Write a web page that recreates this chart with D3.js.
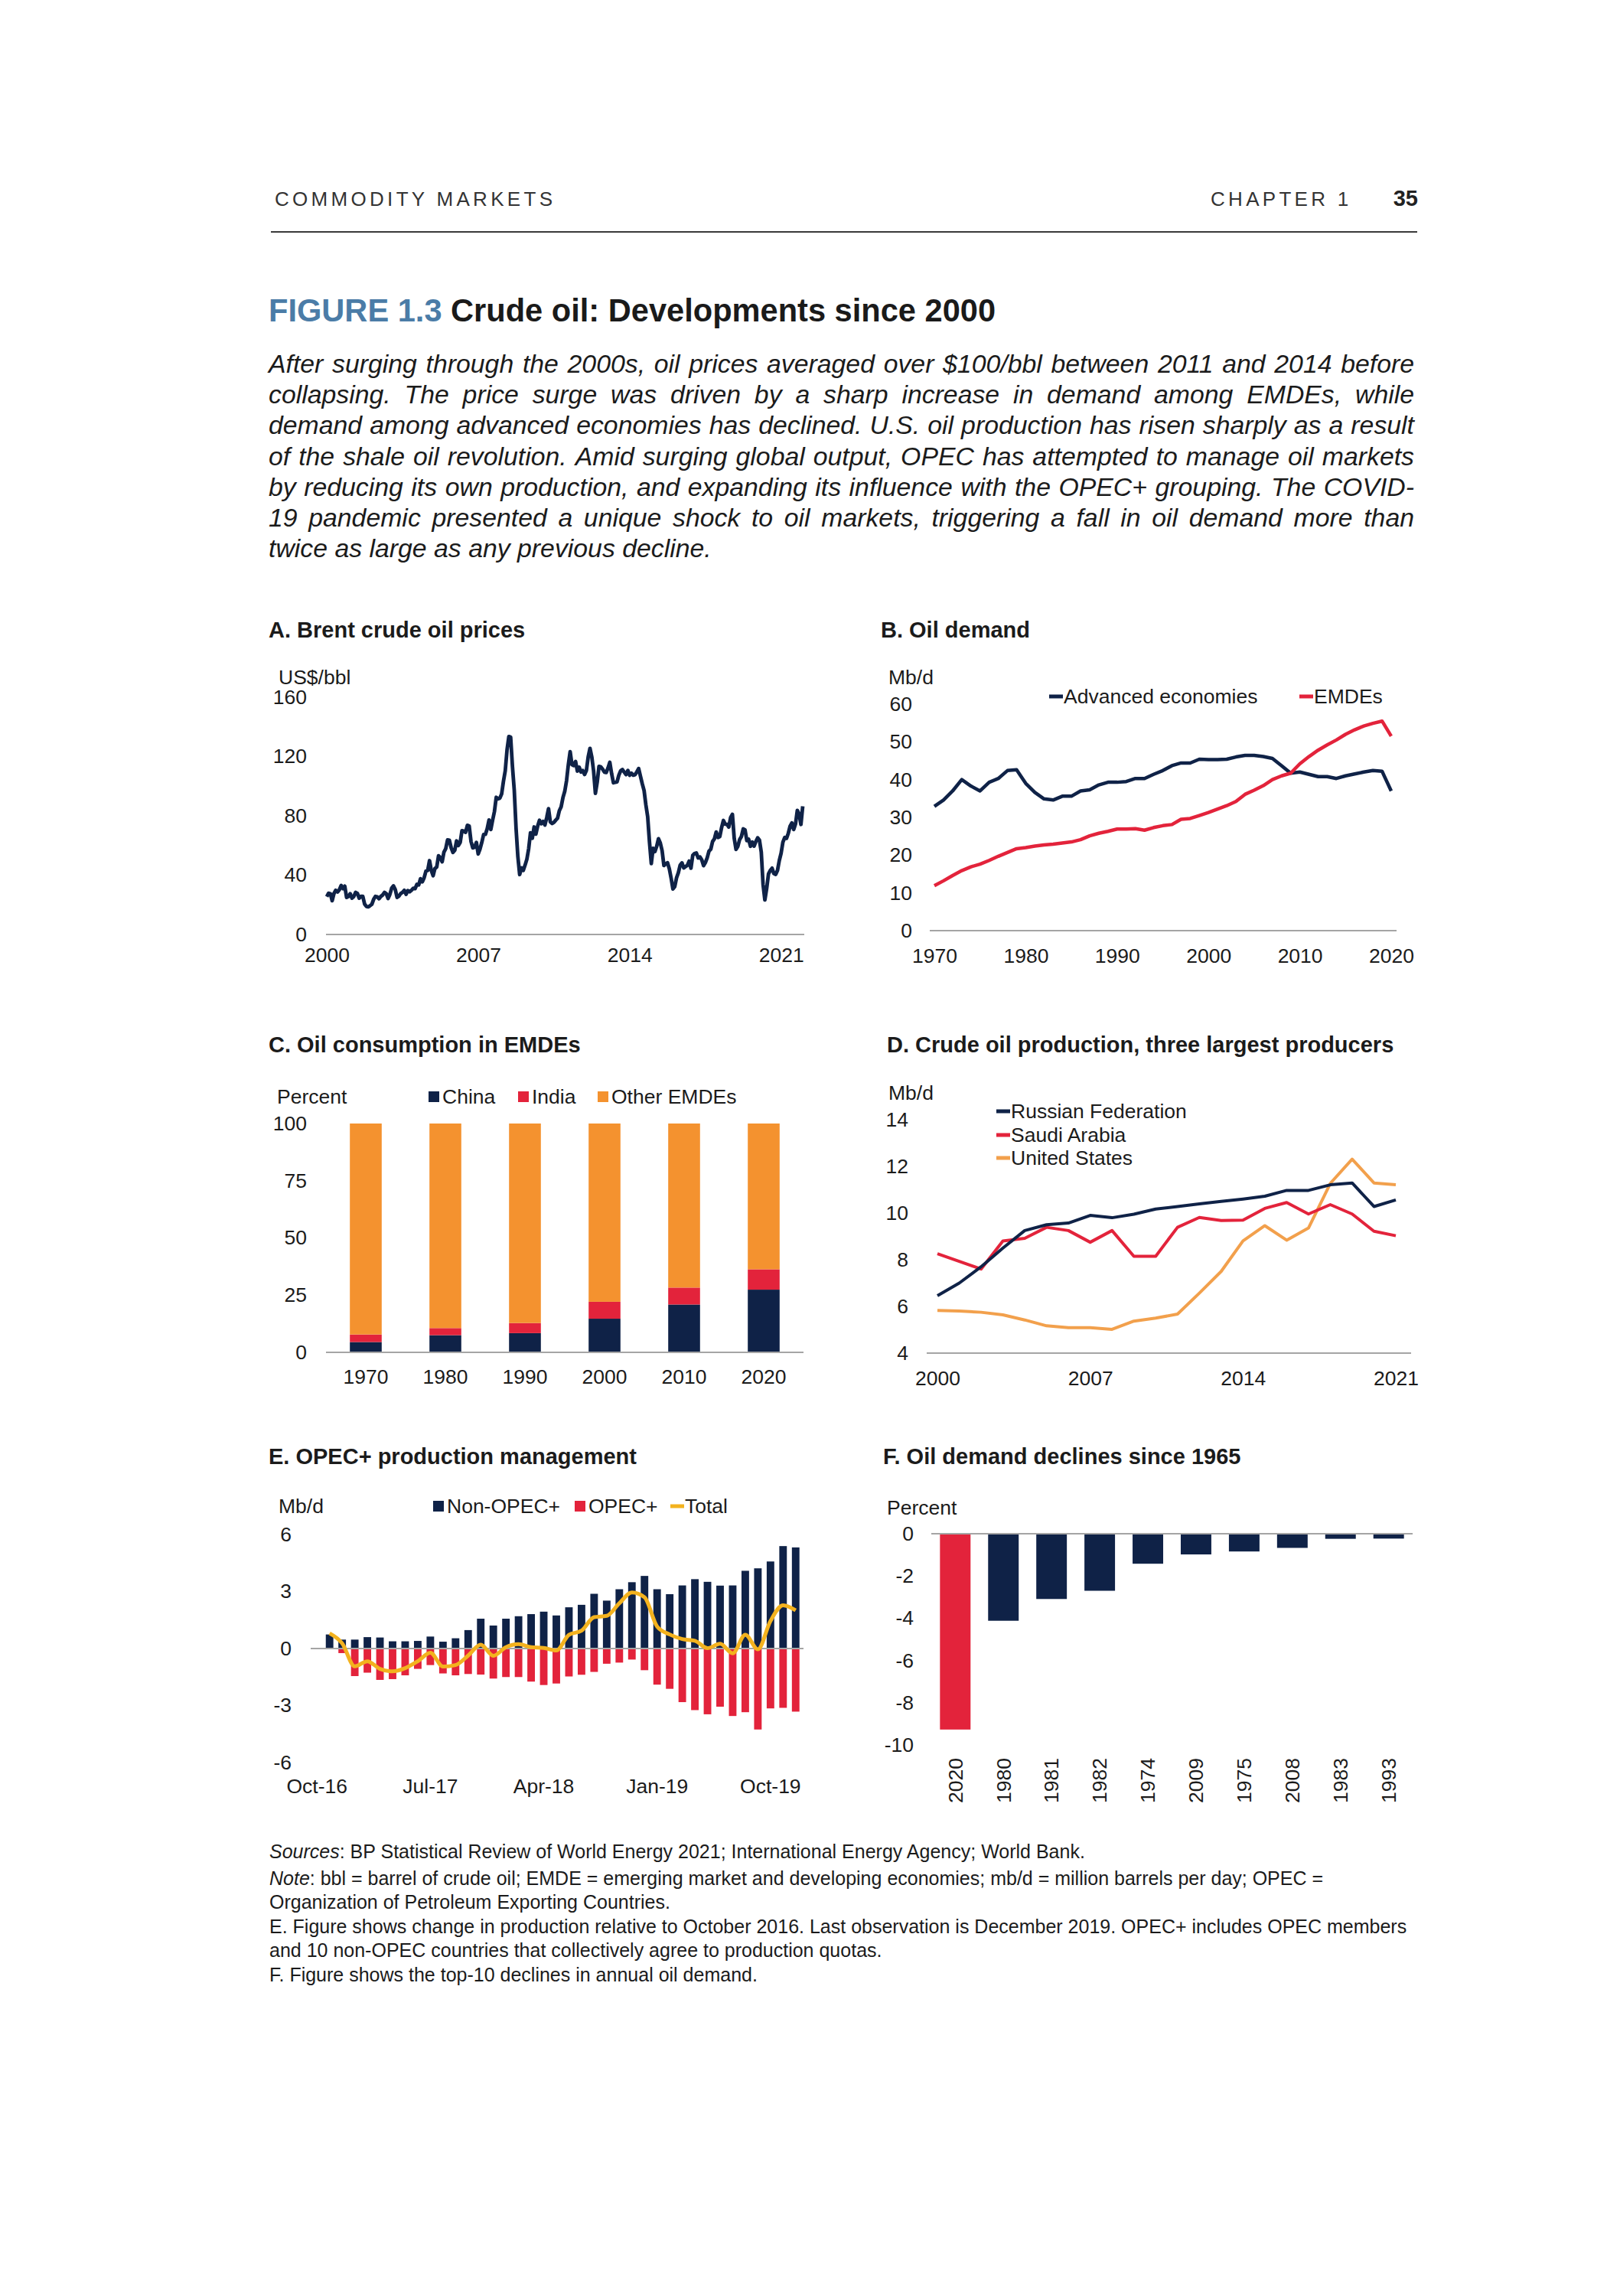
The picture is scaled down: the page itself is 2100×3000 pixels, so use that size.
<!DOCTYPE html>
<meta charset="utf-8">
<script src="https://d3js.org/d3.v7.min.js"></script>
<style>
  body { margin: 0; background: #fff; }
</style>
<div id="page"></div>
<script>

// ---------- data ----------

// A. Brent, US$/bbl, monthly Jan-2000 .. Jan-2022
const brentMonthly = [
  25.5, 27.8, 27.5, 22.8, 27.6, 29.8, 28.7, 30.2, 33.1, 30.9, 32.6, 25.0, // 2000
  25.6, 27.5, 24.5, 25.6, 28.4, 27.7, 24.5, 25.7, 25.7, 20.5, 18.9, 18.6, // 2001
  19.4, 20.3, 23.7, 25.7, 25.4, 24.1, 25.7, 26.6, 28.4, 27.5, 24.3, 27.0, // 2002
  31.2, 32.8, 30.3, 25.0, 25.8, 27.6, 28.4, 29.8, 27.1, 29.6, 28.8, 29.8, // 2003
  31.2, 30.9, 33.8, 33.4, 37.6, 35.5, 38.2, 42.7, 43.2, 49.8, 43.1, 39.6, // 2004
  44.5, 45.5, 53.1, 51.9, 49.0, 55.6, 57.9, 63.8, 63.6, 58.5, 55.3, 56.8, // 2005
  63.1, 60.0, 62.0, 70.0, 69.8, 68.9, 73.6, 73.2, 62.8, 58.4, 58.8, 62.1, // 2006
  54.3, 57.6, 62.1, 67.4, 67.5, 71.3, 77.2, 70.8, 77.1, 82.9, 92.5, 91.5, // 2007
  91.9, 94.8, 103.3, 110.4, 124.6, 133.5, 133.0, 113.2, 97.2, 71.6, 52.5, 40.4, // 2008
  44.9, 43.2, 46.8, 50.8, 57.9, 68.6, 64.9, 72.5, 67.7, 73.2, 77.0, 74.7, // 2009
  76.2, 73.8, 78.8, 84.8, 75.9, 74.8, 75.6, 77.1, 78.4, 83.5, 86.1, 92.3, // 2010
  96.5, 103.7, 114.6, 123.3, 114.5, 113.9, 116.7, 110.2, 112.8, 109.6, 110.5, 107.9, // 2011
  110.6, 119.7, 125.5, 119.8, 110.3, 95.2, 102.6, 113.4, 113.0, 111.5, 109.5, 109.2, // 2012
  112.3, 116.1, 108.5, 102.3, 102.6, 102.9, 107.4, 110.3, 111.2, 109.5, 107.8, 110.6, // 2013
  107.4, 108.8, 107.4, 107.8, 109.7, 111.9, 106.7, 101.6, 97.1, 87.4, 79.4, 62.3, // 2014
  47.8, 58.1, 55.9, 59.5, 64.6, 61.7, 56.5, 46.5, 47.6, 48.4, 44.3, 38.0, // 2015
  30.7, 32.2, 38.2, 41.6, 46.7, 48.3, 44.9, 45.8, 46.6, 49.5, 44.7, 53.3, // 2016
  54.6, 55.0, 51.6, 52.3, 50.3, 46.4, 48.5, 51.7, 56.2, 57.5, 62.7, 64.4, // 2017
  69.1, 65.4, 66.0, 72.1, 76.9, 74.4, 74.3, 72.5, 78.9, 81.0, 64.8, 57.4, // 2018
  59.4, 64.0, 66.1, 71.2, 70.5, 63.3, 64.2, 59.5, 62.3, 59.6, 62.7, 65.2, // 2019
  63.6, 55.5, 33.7, 23.3, 31.0, 40.8, 43.2, 44.7, 41.1, 40.5, 43.2, 49.9, // 2020
  54.8, 62.3, 65.4, 64.8, 68.3, 73.1, 75.2, 70.8, 74.6, 83.7, 81.1, 74.2, // 2021
  86.5                                                                    // 2022
];
const brentTicks = [2000, 2007, 2014, 2021];

// B. Oil demand, mb/d, 1970..2020
const demandYears = d3.range(1970, 2021);
const demandAdvanced = [
  32.9, 34.6, 37.0, 40.0, 38.3, 37.0, 39.3, 40.3, 42.4, 42.6,
  39.0, 36.6, 34.9, 34.6, 35.6, 35.6, 37.0, 37.3, 38.6, 39.3,
  39.3, 39.5, 40.3, 40.3, 41.4, 42.4, 43.7, 44.4, 44.4, 45.4,
  45.3, 45.3, 45.4, 46.0, 46.4, 46.4, 46.1, 45.6, 43.7, 41.7,
  42.0, 41.4, 40.8, 40.8, 40.3, 41.0, 41.5, 42.0, 42.4, 42.2,
  37.0
];
const demandEMDE = [
  11.9, 13.2, 14.6, 15.9, 16.9, 17.6, 18.6, 19.7, 20.7, 21.7,
  22.0, 22.4, 22.7, 22.9, 23.2, 23.5, 24.1, 25.1, 25.8, 26.3,
  26.9, 26.9, 27.0, 26.6, 27.3, 27.8, 28.1, 29.5, 29.7, 30.5,
  31.3, 32.2, 33.1, 34.2, 36.1, 37.2, 38.4, 40.0, 41.0, 41.7,
  44.2, 46.1, 47.8, 49.2, 50.5, 52.0, 53.2, 54.2, 54.9, 55.5,
  51.5
];
const demandTicks = [1970, 1980, 1990, 2000, 2010, 2020];

// C. Oil consumption in EMDEs, percent of EMDE total
const shareYears = ["1970", "1980", "1990", "2000", "2010", "2020"];
const shareChina = [4.5, 7.5, 8.4, 14.7, 20.9, 27.4];
const shareIndia = [3.3, 3.1, 4.4, 7.4, 7.4, 8.9];
const shareOther = [92.2, 89.4, 87.2, 77.9, 71.7, 63.7];

// D. Crude oil production, mb/d, 2000..2021
const prodYears = d3.range(2000, 2022);
const prodRussia = [6.46, 7.0, 7.7, 8.5, 9.25, 9.5, 9.57, 9.9, 9.8, 9.95, 10.17,
  10.28, 10.39, 10.5, 10.6, 10.72, 10.97, 10.97, 11.21, 11.29, 10.28, 10.56];
const prodSaudi = [8.26, 7.93, 7.6, 8.8, 8.92, 9.39, 9.25, 8.75, 9.25, 8.15, 8.15,
  9.39, 9.81, 9.68, 9.7, 10.2, 10.45, 9.96, 10.36, 9.96, 9.22, 9.03];
const prodUS = [5.83, 5.8, 5.75, 5.64, 5.42, 5.17, 5.09, 5.09, 5.02, 5.37, 5.5,
  5.67, 6.57, 7.5, 8.81, 9.46, 8.84, 9.36, 11.27, 12.31, 11.29, 11.21];
const prodTicks = [2000, 2007, 2014, 2021];

// E. OPEC+ production management, change vs Oct-2016, mb/d
const opecMonths = [
  "Oct-16", "Nov-16", "Dec-16",
  "Jan-17", "Feb-17", "Mar-17", "Apr-17", "May-17", "Jun-17", "Jul-17", "Aug-17", "Sep-17", "Oct-17", "Nov-17", "Dec-17",
  "Jan-18", "Feb-18", "Mar-18", "Apr-18", "May-18", "Jun-18", "Jul-18", "Aug-18", "Sep-18", "Oct-18", "Nov-18", "Dec-18",
  "Jan-19", "Feb-19", "Mar-19", "Apr-19", "May-19", "Jun-19", "Jul-19", "Aug-19", "Sep-19", "Oct-19", "Nov-19", "Dec-19"
];
const nonOpecPlus = [null, 0.74, 0.47,
  0.47, 0.60, 0.58, 0.38, 0.38, 0.40, 0.63, 0.36, 0.54, 0.97, 1.57, 1.21,
  1.57, 1.70, 1.81, 1.94, 1.74, 2.17, 2.30, 2.88, 2.52, 3.12, 3.49, 3.82,
  3.12, 2.86, 3.32, 3.65, 3.51, 3.31, 3.32, 4.09, 4.22, 4.58, 5.39, 5.32];
const opecPlus = [null, 0.0, -0.24,
  -1.45, -1.27, -1.65, -1.61, -1.41, -1.07, -0.87, -1.31, -1.41, -1.34, -1.37, -1.58,
  -1.50, -1.50, -1.74, -1.92, -1.84, -1.47, -1.38, -1.23, -0.80, -0.74, -0.58, -1.14,
  -1.90, -2.12, -2.82, -3.24, -3.46, -3.06, -3.55, -3.35, -4.26, -3.15, -3.12, -3.32];
const opecTotal = [null, 0.80, 0.27,
  -0.94, -0.67, -1.07, -1.20, -1.03, -0.67, -0.22, -0.95, -0.87, -0.37, 0.20, -0.38,
  0.07, 0.23, 0.07, 0.03, -0.10, 0.72, 0.94, 1.65, 1.72, 2.38, 2.95, 2.70,
  1.16, 0.74, 0.50, 0.41, 0.02, 0.25, -0.25, 0.72, -0.04, 1.45, 2.28, 2.01];
const opecTicks = ["Oct-16", "Jul-17", "Apr-18", "Jan-19", "Oct-19"];

// F. Top-10 declines in annual oil demand since 1965, percent
const declineYears = ["2020", "1980", "1981", "1982", "1974", "2009", "1975", "2008", "1983", "1993"];
const declineValues = [-9.27, -4.12, -3.09, -2.70, -1.42, -0.98, -0.84, -0.67, -0.24, -0.23];

// text
const headerLeft = "COMMODITY MARKETS";
const headerRight = "CHAPTER 1";
const pageNumber = "35";
const leadLines = [
  "After surging through the 2000s, oil prices averaged over $100/bbl between 2011 and 2014 before",
  "collapsing. The price surge was driven by a sharp increase in demand among EMDEs, while",
  "demand among advanced economies has declined. U.S. oil production has risen sharply as a result",
  "of the shale oil revolution. Amid surging global output, OPEC has attempted to manage oil markets",
  "by reducing its own production, and expanding its influence with the OPEC+ grouping. The COVID-",
  "19 pandemic presented a unique shock to oil markets, triggering a fall in oil demand more than",
  "twice as large as any previous decline."
];

// ---------- style ----------
const FONT = "'Liberation Sans', Arial, Helvetica, sans-serif";
const INK = "#1b1b1b";
const NAVY = "#0f2247";
const RED = "#e3233b";
const ORANGE = "#f4922f";
const US_ORANGE = "#f2a04c";
const GOLD = "#f3b21e";
const AXIS = "#a5a5a5";
const TICK = 26.5;

const svg = d3.select("#page").append("svg")
  .attr("width", 2100)
  .attr("height", 3000)
  .style("background", "#fff");

function txt(x, y, s, size, opts) {
  opts = opts || {};
  return svg.append("text")
    .attr("x", x).attr("y", y)
    .attr("font-family", FONT)
    .attr("font-size", size)
    .attr("font-weight", opts.weight || "normal")
    .attr("font-style", opts.style || "normal")
    .attr("fill", opts.fill || INK)
    .attr("text-anchor", opts.anchor || "start")
    .attr("dominant-baseline", opts.base || "auto")
    .attr("letter-spacing", opts.spacing || 0)
    .text(s);
}

function styleAxis(g) {
  g.select(".domain").remove();
  g.selectAll("text")
    .attr("font-family", FONT)
    .attr("font-size", TICK)
    .attr("fill", INK);
  return g;
}

function yAxis(scale, x, ticks, pad) {
  return styleAxis(svg.append("g")
    .attr("transform", `translate(${x},0)`)
    .call(d3.axisLeft(scale).tickValues(ticks).tickSize(0).tickPadding(pad)
      .tickFormat(d => String(d))));
}

function xAxis(scale, y, ticks, pad) {
  const ax = d3.axisBottom(scale).tickSize(0).tickPadding(pad).tickFormat(d => String(d));
  if (ticks) ax.tickValues(ticks);
  return styleAxis(svg.append("g")
    .attr("transform", `translate(0,${y})`)
    .call(ax));
}

function baseLine(x0, x1, y) {
  svg.append("line")
    .attr("x1", x0).attr("x2", x1).attr("y1", y).attr("y2", y)
    .attr("stroke", AXIS).attr("stroke-width", 2);
}

function lineKey(x, y, color, label) {
  svg.append("line")
    .attr("x1", x).attr("x2", x + 18).attr("y1", y).attr("y2", y)
    .attr("stroke", color).attr("stroke-width", 5);
  txt(x + 19, y, label, TICK, { base: "central" });
}

function boxKey(x, y, color, label) {
  svg.append("rect")
    .attr("x", x).attr("y", y - 7).attr("width", 14).attr("height", 14)
    .attr("fill", color);
  txt(x + 18, y, label, TICK, { base: "central" });
}

// ---------- page header ----------
txt(359, 269, headerLeft, 26, { spacing: 4.3, fill: "#333" });
txt(1582, 269, headerRight, 26, { spacing: 4.3, fill: "#333" });
txt(1853, 269, pageNumber, 29, { weight: "bold", anchor: "end", fill: "#222" });
svg.append("line")
  .attr("x1", 354).attr("x2", 1852).attr("y1", 303).attr("y2", 303)
  .attr("stroke", "#3a3a3a").attr("stroke-width", 2);

// figure title
const title = svg.append("text")
  .attr("x", 351).attr("y", 420)
  .attr("font-family", FONT).attr("font-size", 41.6).attr("font-weight", "bold");
title.append("tspan").attr("fill", "#4b7ca7").text("FIGURE 1.3 ");
title.append("tspan").attr("fill", "#1a1a1a").text("Crude oil: Developments since 2000");

// justified italic lead text
(function justify() {
  const x0 = 351, x1 = 1848, y0 = 487, lh = 40.2, size = 33.8;
  leadLines.forEach((line, i) => {
    const words = line.split(" ");
    const nodes = words.map(w => txt(0, y0 + i * lh, w, size, { style: "italic" }));
    const widths = nodes.map(n => n.node().getComputedTextLength());
    const last = i === leadLines.length - 1;
    const gap = last ? size * 0.278 : (x1 - x0 - d3.sum(widths)) / (words.length - 1);
    let x = x0;
    nodes.forEach((n, j) => { n.attr("x", x); x += widths[j] + gap; });
  });
})();

// ---------- A. Brent crude oil prices ----------
txt(351, 833, "A. Brent crude oil prices", 29, { weight: "bold" });
txt(364, 885, "US$/bbl", TICK, { base: "central" });

const xA = d3.scaleLinear().domain([2000, 2022]).range([427, 1049]);
const yA = d3.scaleLinear().domain([0, 160]).range([1221, 911]);
yAxis(yA, 426, [0, 40, 80, 120, 160], 25);
baseLine(426, 1051, yA(0));
xAxis(xA, yA(0), brentTicks, 17);

svg.append("path")
  .datum(brentMonthly)
  .attr("fill", "none")
  .attr("stroke", NAVY)
  .attr("stroke-width", 4.8)
  .attr("stroke-linejoin", "round")
  .attr("d", d3.line().x((d, i) => xA(2000 + i / 12)).y(d => yA(d)));

// ---------- B. Oil demand ----------
txt(1151, 833, "B. Oil demand", 29, { weight: "bold" });
txt(1161, 885, "Mb/d", TICK, { base: "central" });

const xB = d3.scaleLinear().domain([1970, 2020]).range([1221, 1818]);
const yB = d3.scaleLinear().domain([0, 60]).range([1216, 920]);
yAxis(yB, 1221, [0, 10, 20, 30, 40, 50, 60], 29);
baseLine(1215, 1825, yB(0));
xAxis(xB, yB(0), demandTicks, 23);

[[demandAdvanced, NAVY], [demandEMDE, RED]].forEach(([series, color]) => {
  svg.append("path")
    .datum(series)
    .attr("fill", "none")
    .attr("stroke", color)
    .attr("stroke-width", 4.5)
    .attr("stroke-linejoin", "round")
    .attr("d", d3.line().x((d, i) => xB(demandYears[i])).y(d => yB(d)));
});
lineKey(1371, 910, NAVY, "Advanced economies");
lineKey(1698, 910, RED, "EMDEs");

// ---------- C. Oil consumption in EMDEs ----------
txt(351, 1375, "C. Oil consumption in EMDEs", 29, { weight: "bold" });
txt(362, 1433, "Percent", TICK, { base: "central" });

const xC = d3.scaleBand().domain(shareYears).range([426, 1050]).paddingInner(0.6).paddingOuter(0.3);
const yC = d3.scaleLinear().domain([0, 100]).range([1767, 1468]);
yAxis(yC, 426, [0, 25, 50, 75, 100], 25);

const stackC = d3.stack().keys(["china", "india", "other"])(
  shareYears.map((yr, i) => ({ year: yr, china: shareChina[i], india: shareIndia[i], other: shareOther[i] }))
);
const colC = { china: NAVY, india: RED, other: ORANGE };
stackC.forEach(layer => {
  svg.append("g").attr("fill", colC[layer.key])
    .selectAll("rect")
    .data(layer)
    .join("rect")
      .attr("x", d => xC(d.data.year))
      .attr("width", xC.bandwidth())
      .attr("y", d => yC(d[1]))
      .attr("height", d => yC(d[0]) - yC(d[1]));
});
baseLine(426, 1050, yC(0));
xAxis(xC, yC(0), null, 22);
boxKey(560, 1433, NAVY, "China");
boxKey(677, 1433, RED, "India");
boxKey(781, 1433, ORANGE, "Other EMDEs");

// ---------- D. Crude oil production ----------
txt(1159, 1375, "D. Crude oil production, three largest producers", 29, { weight: "bold" });
txt(1161, 1428, "Mb/d", TICK, { base: "central" });

const xD = d3.scaleLinear().domain([2000, 2021]).range([1225, 1824]);
const yD = d3.scaleLinear().domain([4, 14]).range([1768, 1463]);
yAxis(yD, 1211, [4, 6, 8, 10, 12, 14], 24);
baseLine(1211, 1844, yD(4));
xAxis(xD, yD(4), prodTicks, 23);

[[prodUS, US_ORANGE], [prodSaudi, RED], [prodRussia, NAVY]].forEach(([series, color]) => {
  svg.append("path")
    .datum(series)
    .attr("fill", "none")
    .attr("stroke", color)
    .attr("stroke-width", 4)
    .attr("stroke-linejoin", "round")
    .attr("d", d3.line().x((d, i) => xD(prodYears[i])).y(d => yD(d)));
});
lineKey(1302, 1452, NAVY, "Russian Federation");
lineKey(1302, 1483, RED, "Saudi Arabia");
lineKey(1302, 1513, US_ORANGE, "United States");

// ---------- E. OPEC+ production management ----------
txt(351, 1913, "E. OPEC+ production management", 29, { weight: "bold" });
txt(364, 1968, "Mb/d", TICK, { base: "central" });

const xE = d3.scaleBand().domain(opecMonths).range([406, 1048]).paddingInner(0.4).paddingOuter(0.2);
const yE = d3.scaleLinear().domain([-6, 6]).range([2303, 2005]);
yAxis(yE, 406, [-6, -3, 0, 3, 6], 25);

svg.append("g").attr("fill", NAVY)
  .selectAll("rect")
  .data(opecMonths.map((m, i) => ({ m, v: nonOpecPlus[i] })).filter(d => d.v != null))
  .join("rect")
    .attr("x", d => xE(d.m))
    .attr("width", xE.bandwidth())
    .attr("y", d => yE(Math.max(0, d.v)))
    .attr("height", d => Math.abs(yE(d.v) - yE(0)));
svg.append("g").attr("fill", RED)
  .selectAll("rect")
  .data(opecMonths.map((m, i) => ({ m, v: opecPlus[i] })).filter(d => d.v != null))
  .join("rect")
    .attr("x", d => xE(d.m))
    .attr("width", xE.bandwidth())
    .attr("y", d => yE(Math.max(0, d.v)))
    .attr("height", d => Math.abs(yE(d.v) - yE(0)));
baseLine(406, 1050, yE(0));
svg.append("path")
  .datum(opecTotal)
  .attr("fill", "none")
  .attr("stroke", GOLD)
  .attr("stroke-width", 5)
  .attr("stroke-linejoin", "round")
  .attr("d", d3.line()
    .defined(d => d != null)
    .curve(d3.curveMonotoneX)
    .x((d, i) => xE(opecMonths[i]) + xE.bandwidth() / 2)
    .y(d => yE(d)));
xAxis(xE, yE(-6), opecTicks, 21);
boxKey(566, 1968, NAVY, "Non-OPEC+");
boxKey(751, 1968, RED, "OPEC+");
lineKey(876, 1968, GOLD, "Total");

// ---------- F. Oil demand declines since 1965 ----------
txt(1154, 1913, "F. Oil demand declines since 1965", 29, { weight: "bold" });
txt(1159, 1970, "Percent", TICK, { base: "central" });

const xF = d3.scaleBand().domain(declineYears).range([1217, 1846]).paddingInner(0.365).paddingOuter(0.18);
const yF = d3.scaleLinear().domain([-10, 0]).range([2280, 2004]);
yAxis(yF, 1217, [-10, -8, -6, -4, -2, 0], 23);

svg.append("g")
  .selectAll("rect")
  .data(declineYears.map((yr, i) => ({ yr, v: declineValues[i] })))
  .join("rect")
    .attr("fill", (d, i) => i === 0 ? RED : NAVY)
    .attr("x", d => xF(d.yr))
    .attr("width", xF.bandwidth())
    .attr("y", yF(0))
    .attr("height", d => yF(d.v) - yF(0));
baseLine(1217, 1846, yF(0));
xAxis(xF, yF(-10), null, 0)
  .selectAll("text")
    .attr("transform", "rotate(-90)")
    .attr("text-anchor", "end")
    .attr("x", -17)
    .attr("y", 0)
    .attr("dy", "0.35em");

// ---------- footnotes ----------
const FN = 25;
function note(y, italic, rest) {
  const t = svg.append("text")
    .attr("x", 352).attr("y", y)
    .attr("font-family", FONT).attr("font-size", FN).attr("fill", INK);
  if (italic) t.append("tspan").attr("font-style", "italic").text(italic);
  t.append("tspan").text(rest);
}
note(2428, "Sources", ": BP Statistical Review of World Energy 2021; International Energy Agency; World Bank.");
note(2463, "Note", ": bbl = barrel of crude oil; EMDE = emerging market and developing economies; mb/d = million barrels per day; OPEC =");
note(2494, null, "Organization of Petroleum Exporting Countries.");
note(2526, null, "E. Figure shows change in production relative to October 2016. Last observation is December 2019. OPEC+ includes OPEC members");
note(2557, null, "and 10 non-OPEC countries that collectively agree to production quotas.");
note(2589, null, "F. Figure shows the top-10 declines in annual oil demand.");

</script>
